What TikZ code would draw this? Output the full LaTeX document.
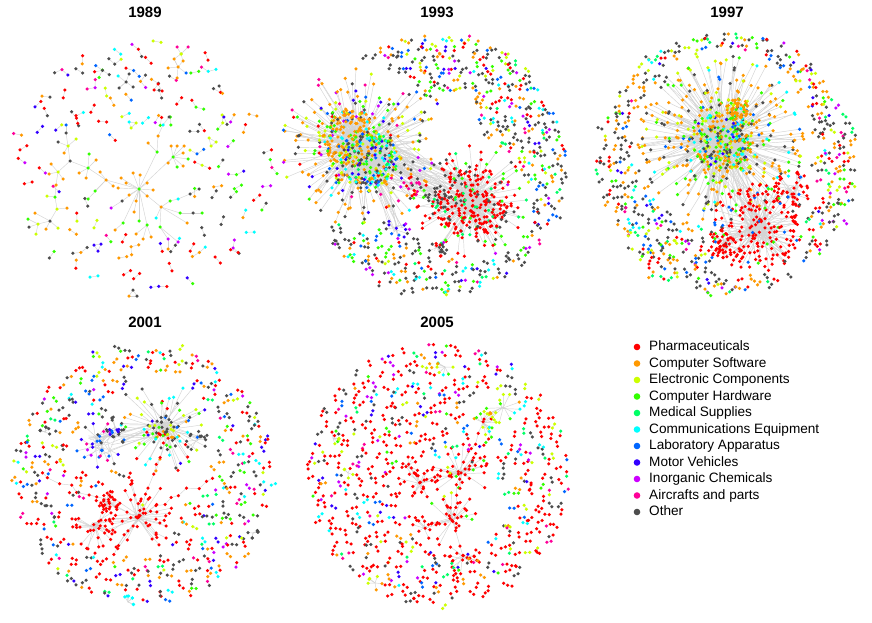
\documentclass[tikz,border=0pt]{standalone}
\usepackage{fontspec}
\setmainfont{Liberation Sans}
\definecolor{ph}{HTML}{FF0000}
\definecolor{cs}{HTML}{FF9900}
\definecolor{ec}{HTML}{CCFF00}
\definecolor{ch}{HTML}{33FF00}
\definecolor{ms}{HTML}{00FF66}
\definecolor{ce}{HTML}{00FFFF}
\definecolor{la}{HTML}{0066FF}
\definecolor{mv}{HTML}{3300FF}
\definecolor{ic}{HTML}{CC00FF}
\definecolor{ap}{HTML}{FF0099}
\definecolor{ot}{HTML}{4D4D4D}
\definecolor{edgecol}{HTML}{D4D4D4}
\tikzset{
  edge/.style={draw=edgecol,line width=0.45pt},
  yeartitle/.style={font=\bfseries\fontsize{15}{18}\selectfont,inner sep=0pt},
  legtext/.style={font=\fontsize{13.6}{16}\selectfont,anchor=west,inner sep=0pt,text height=9.5pt,text depth=2.5pt},
  legdot/.style={circle,inner sep=0pt,minimum size=6.6pt},
}
\def\dotr{1.75pt}
\newif\ifrejectpt
\newif\ifdotpass
\def\exzones{0/0/0}
% ---- own random generator (sum of three small Lehmer generators)
\newcount\sA \newcount\sB \newcount\sC \newcount\rv
\newcommand\rngseed[1]{\global\sA=\numexpr #1*7+11\relax
  \global\sB=\numexpr #1*13+17\relax \global\sC=\numexpr #1*19+23\relax}
\newcommand\rngnext{%
 \global\sA=\numexpr 171*\sA-30269*((171*\sA-15134)/30269)\relax
 \global\sB=\numexpr 172*\sB-30307*((172*\sB-15153)/30307)\relax
 \global\sC=\numexpr 170*\sC-30323*((170*\sC-15161)/30323)\relax
 \global\rv=\numexpr \sA+\sB+\sC\relax
 \global\rv=\numexpr \rv-29999*((\rv-14999)/29999)\relax}
\newcommand\getu[1]{\rngnext\pgfmathsetmacro#1{\the\numexpr\rv/2\relax/15000}}
\newcommand\deflist[2]{%
 \foreach \itm [count=\nn] in {#2}{%
  \expandafter\xdef\csname cl@#1@\nn\endcsname{\itm}%
  \expandafter\xdef\csname cl@#1@n\endcsname{\nn}}}
\newcommand\pickcol[2]{\rngnext
 \edef#1{\csname cl@#2@\the\numexpr(\rv*\csname cl@#2@n\endcsname-14999)/29999+1\relax\endcsname}}
\newcommand\myedge[4]{\ifdotpass\else\draw[edge] (#1,#2)--(#3,#4);\fi}
\newcommand\mydot[3]{\ifdotpass\fill[fill=#1] (#2,#3) circle (\dotr);\fi}
% dyads/triads on a jittered hex grid: cx cy rmin rmax spacing list sep triple-percent
\newcommand\gpairs[8]{%
 \pgfmathtruncatemacro\gn{#4/#5+1}%
 \pgfmathtruncatemacro\gmin{-\gn}%
 \pgfmathtruncatemacro\gr{#4/(0.866*#5)+1}%
 \pgfmathtruncatemacro\grmin{-\gr}%
 \foreach \gj in {\grmin,...,\gr}{%
 \foreach \gi in {\gmin,...,\gn}{%
  \getu\ua\getu\ub
  \pgfmathsetmacro\px{#1+(\gi+0.5*abs(mod(\gj,2)))*#5+0.32*#5*(2*\ua-1)}%
  \pgfmathsetmacro\py{#2+0.866*\gj*#5+0.32*#5*(2*\ub-1)}%
  \pgfmathsetmacro\dd{((\px-#1)/100)^2+((\py-#2)/100)^2}%
  \global\rejectptfalse
  \pgfmathparse{(\dd>(#4/100)^2) || (\dd<(#3/100)^2)}%
  \ifdim\pgfmathresult pt>0.5pt \global\rejectpttrue\fi
  \foreach \ex/\ey/\er in \exzones {%
    \pgfmathparse{((\px-\ex)/100)^2+((\py-\ey)/100)^2<(\er/100)^2}%
    \ifdim\pgfmathresult pt>0.5pt \global\rejectpttrue\fi}%
  \ifrejectpt\else
   \getu\ua
   \pgfmathsetmacro\myang{360*\ua}%
   \pgfmathsetmacro\qx{\px+#7*cos(\myang)}%
   \pgfmathsetmacro\qy{\py+#7*sin(\myang)}%
   \pickcol\ca{#6}%
   \pickcol\cb{#6}%
   \rngnext
   \ifnum\rv<15000 \let\cb\ca\fi
   \myedge{\px}{\py}{\qx}{\qy}%
   \mydot{\ca}{\px}{\py}%
   \mydot{\cb}{\qx}{\qy}%
   \rngnext
   \ifnum\rv<\numexpr 300*#8\relax
     \getu\ua
     \pgfmathsetmacro\myang{\myang+160*\ua-80}%
     \pgfmathsetmacro\tx{\qx+#7*cos(\myang)}%
     \pgfmathsetmacro\ty{\qy+#7*sin(\myang)}%
     \pickcol\cc{#6}%
     \myedge{\qx}{\qy}{\tx}{\ty}%
     \mydot{\cc}{\tx}{\ty}%
   \fi
  \fi
 }}}
% hub and spokes: cx cy rmin rmax N list hubspread edge-percent exponent
\newcommand\spokes[9]{%
 \foreach \i in {1,...,#5}{%
  \getu\ua\getu\ub
  \pgfmathsetmacro\myang{360*\ua}%
  \pgfmathsetmacro\myrad{#3+(#4-#3)*(\ub+0.001)^#9}%
  \pgfmathsetmacro\px{#1+\myrad*cos(\myang)}%
  \pgfmathsetmacro\py{#2+\myrad*sin(\myang)}%
  \getu\ua\getu\ub
  \pgfmathsetmacro\hx{#1+#7*(2*\ua-1)}%
  \pgfmathsetmacro\hy{#2+#7*(2*\ub-1)}%
  \pickcol\ca{#6}%
  \rngnext
  \ifnum\rv<\numexpr 300*#8\relax \myedge{\hx}{\hy}{\px}{\py}\fi
  \mydot{\ca}{\px}{\py}%
 }}
% edges only between two areas: x1 y1 s1 x2 y2 s2 N
\newcommand\links[7]{%
 \foreach \i in {1,...,#7}{%
  \getu\ua\getu\ub
  \pgfmathsetmacro\ax{#1+#3*(2*\ua-1)}\pgfmathsetmacro\ay{#2+#3*(2*\ub-1)}%
  \getu\ua\getu\ub
  \pgfmathsetmacro\bx{#4+#6*(2*\ua-1)}\pgfmathsetmacro\bby{#5+#6*(2*\ub-1)}%
  \myedge{\ax}{\ay}{\bx}{\bby}}}
% chain of nodes: x1 y1 x2 y2 n list jitter
\newcommand\chain[7]{%
 \foreach \k in {0,...,#5}{%
  \getu\ua\getu\ub
  \pgfmathsetmacro\chx{#1+(#3-#1)*\k/#5+#7*(2*\ua-1)}%
  \pgfmathsetmacro\chy{#2+(#4-#2)*\k/#5+#7*(2*\ub-1)}%
  \ifnum\k>0 \myedge{\chlx}{\chly}{\chx}{\chy}\fi
  \pickcol\ca{#6}%
  \mydot{\ca}{\chx}{\chy}%
  \global\let\chlx\chx \global\let\chly\chy
 }}
\deflist{l89}{ph,ph,ph,ph,ph,ph,cs,cs,cs,ot,ot,ot,ot,ec,ec,ch,ch,ce,la,ic,ap,mv}
\deflist{r93}{ot,ot,ot,ot,ot,ot,ot,ot,ot,ot,ot,ot,cs,cs,cs,cs,cs,ph,ph,ph,ch,ch,ch,ec,ec,ce,ce,la,la,ic,ap,ms,mv}
\deflist{lo93}{cs,cs,cs,cs,cs,cs,cs,ch,ec,ot,ce,la}
\deflist{lm93}{ch,ch,ch,ec,ec,ce,ce,ce,ot,ot,ot,cs,cs,la,mv,ms}
\deflist{lh93}{cs,cs,cs,cs,cs,cs,ch,ch,ec,ec,ot,ot,ot,ce,la,mv,ic,ap,ph}
\deflist{ap93}{ap,ap,ap,ot,ic,ph}
\deflist{mv93}{mv,mv,la,ic,ot}
\deflist{rc93}{ph,ph,ph,ph,ph,ph,ph,ph,ph,ph,ph,ph,ch,ot,ms}
\deflist{rh93}{ph,ph,ph,ph,ph,ch,ch,ot,ot,ms,ic}
\deflist{grey}{ot,ot,ot,ot,ph}
\deflist{ring97}{cs,cs,cs,cs,cs,cs,cs,ot,ot,ot,ot,ot,ot,ot,ph,ph,ph,ch,ch,ec,ec,ce,la,mv,ic,ap,ms}
\deflist{c97}{cs,cs,cs,cs,cs,ot,ot,ot,ch,ch,ch,ec,ec,ce,ce,la,mv}
\deflist{h97}{cs,cs,cs,cs,cs,cs,ot,ot,ot,ch,ch,ec,ec,ce,la}
\deflist{orng}{cs,cs,cs,cs,ch}
\deflist{r97}{ph,ph,ph,ph,ph,ph,ph,ph,ph,ph,ph,ph,ot,ch,la}
\deflist{ring01}{ph,ph,ph,ph,ph,ph,ph,ot,ot,ot,ot,ot,ot,cs,cs,cs,ch,ec,ce,la,mv,mv,ic,ap,ms}
\deflist{top01}{ot,ot,ot,ot,ch,ch,ec,ec,cs,ce,mv,ph,la}
\deflist{left01}{mv,mv,mv,ap,ap,ic,ic,ot,ot,la}
\deflist{red}{ph}
\deflist{gray}{ot}
\deflist{cyan}{ce}
\deflist{ring05}{ph,ph,ph,ph,ph,ph,ph,ph,ph,ph,ph,ph,ph,ph,ot,ot,ot,ot,ec,ch,cs,ce,la,mv,ic,ap,ms}
\deflist{yel05}{ec,ec,ec,ec,ch,ce,cs,ph}
\deflist{redt}{ph,ph,ph,ph,ph,ph,ph,ph,ec,ch}
\newcommand\drawnetworks{%
% ---------------- 1989
\rngseed{89}%
\def\exzones{140/190/48,85/175/28,50/215/24,175/155/20,175/215/25,62/145/14,178/63/16,126/82/12,158/88/8,132/125/8,212/142/8,98/247/8,133/293/8}%
\gpairs{145}{165}{0}{130}{21}{l89}{8}{25}%
\foreach \xa/\ya/\xb/\yb/\cl in {
 139/189/121/178/cs, 139/189/133/173/cs, 139/189/140/175/cs, 139/189/118/188/cs, 139/189/129/195/cs, 139/189/136/201/cs, 139/189/134/212/cs, 139/189/147/183/cs, 139/189/153/190/cs, 139/189/147/196/cs, 139/189/126/183/cs,
 139/189/106/180/cs,
 106/180/95/191/ch, 106/180/88/199/ch, 106/180/100/172/cs, 106/180/113/186/cs,
 106/180/88/168/ch,
 88/168/79/173/cs, 88/168/86/178/cs, 88/168/89/154/ch, 88/168/96/160/cs,
 88/168/70/161/ot,
 70/161/68/146/ec, 68/146/58/142/ot, 68/146/76/139/ec, 68/146/64/153/cs, 68/146/66/133/ot, 66/133/66/125/la,
 70/161/58/172/ec, 58/172/51/164/cs, 58/172/49/174/cs, 58/172/63/179/cs, 58/172/56/185/cs,
 56/185/55/197/ch, 55/197/47/196/ec, 55/197/57/209/ec, 57/209/67/208/cs, 57/209/50/221/ot,
 50/221/38/224/ec, 50/221/35/213/cs, 38/224/28/219/ch, 38/224/29/227/ot, 38/224/36/234/ec, 50/221/46/229/cs, 50/221/58/228/ec,
 139/189/157/152/ch, 157/152/158/136/cs, 158/136/163/125/ce, 163/125/169/117/ot, 157/152/148/143/cs,
 139/189/173/157/ch, 173/157/171/146/cs, 173/157/177/146/cs, 173/157/184/146/cs, 173/157/183/153/cs, 173/157/188/159/ch, 173/157/183/166/cs, 173/157/177/167/ch, 173/157/168/163/cs,
 139/189/161/207/cs, 161/207/170/201/ch, 170/201/178/199/ce, 178/199/190/194/ot, 190/194/199/189/ot,
 161/207/180/213/ch, 180/213/193/213/ot, 180/213/202/213/ch, 161/207/187/223/cs, 161/207/156/218/ce,
 161/207/160/227/ch, 160/227/168/239/ic, 168/239/168/249/cs, 160/227/178/242/ic,
 139/189/139/221/ch, 139/189/147/225/ch, 147/225/136/234/cs, 147/225/143/239/cs, 147/225/151/237/cs,
 139/189/123/223/ch, 123/223/115/230/cs,
 139/189/122/201/ot, 122/201/111/208/ic,
 178/67/174/59/cs, 174/59/181/54/ec, 181/54/177/47/ap, 181/54/188/47/ap, 178/67/183/61/cs, 183/61/181/54/ec, 178/67/168/68/cs, 178/67/177/78/cs, 178/67/186/73/la, 174/59/178/67/cs,
 126/82/118/76/ce, 126/82/129/74/ot, 126/82/119/88/ot, 126/82/133/87/ot, 119/88/126/82/ot,
 158/84/154/90/ph, 154/90/162/91/ph, 162/91/158/84/ph,
 129/122/136/123/ec, 136/123/131/128/ec, 131/128/129/122/ce,
 209/138/216/142/ec, 216/142/211/146/ec, 211/146/209/138/ec,
 94/245/101/244/mv, 101/244/98/251/mv, 98/251/94/245/mv,
 133/290/129/296/cs, 129/296/137/296/ot, 137/296/133/290/ot}{%
  \myedge{\xa}{\ya}{\xb}{\yb}%
  \mydot{\cl}{\xb}{\yb}}%
\mydot{ch}{139}{189}%
% ---------------- 1993
\rngseed{93}%
\links{368}{150}{25}{462}{200}{22}{45}%
\spokes{360}{148}{30}{80}{270}{lh93}{10}{100}{1.3}%
\spokes{352}{138}{0}{28}{170}{lo93}{6}{90}{0.5}%
\spokes{370}{160}{0}{28}{170}{lm93}{6}{90}{0.5}%
\spokes{410}{188}{0}{12}{16}{ap93}{3}{100}{0.5}%
\spokes{396}{228}{0}{14}{14}{mv93}{2}{70}{0.5}%
\links{396}{228}{8}{375}{170}{15}{10}%
\spokes{470}{202}{35}{58}{75}{rh93}{8}{100}{1}%
\spokes{470}{202}{0}{37}{230}{rc93}{6}{90}{0.55}%
\spokes{440}{198}{0}{12}{20}{grey}{4}{70}{0.5}%
\spokes{437}{248}{0}{10}{16}{grey}{3}{70}{0.5}%
\def\exzones{360/148/84,470/202/62,410/188/16,396/228/16,437/248/13,455/115/22}%
\gpairs{437}{165}{55}{131}{9.5}{r93}{4}{8}%
% ---------------- 1997
\rngseed{97}%
\links{722}{150}{20}{755}{225}{25}{25}%
\spokes{722}{138}{30}{85}{320}{h97}{10}{100}{1.3}%
\spokes{722}{140}{0}{30}{260}{c97}{6}{90}{0.5}%
\spokes{737}{110}{0}{12}{50}{orng}{3}{80}{0.5}%
\spokes{792}{190}{0}{20}{45}{r97}{5}{80}{0.6}%
\spokes{725}{245}{0}{20}{40}{r97}{5}{80}{0.6}%
\spokes{757}{228}{0}{45}{200}{r97}{8}{80}{0.55}%
\def\exzones{722/138/90,757/228/52,792/190/30,725/245/22}%
\gpairs{727}{164}{66}{131}{9.5}{ring97}{4}{8}%
% ---------------- 2001
\rngseed{101}%
\spokes{163}{427}{15}{50}{70}{top01}{6}{100}{1}%
\spokes{163}{427}{0}{15}{40}{top01}{4}{100}{0.5}%
\spokes{197}{440}{3}{12}{10}{gray}{1}{100}{0.7}%
\spokes{115}{428}{3}{12}{10}{gray}{1}{100}{0.7}%
\spokes{100}{445}{0}{25}{35}{left01}{10}{80}{0.6}%
\links{100}{445}{12}{155}{430}{10}{10}%
\spokes{45}{432}{5}{5}{7}{gray}{0}{100}{1}%
\spokes{253}{533}{5}{5}{7}{gray}{0}{100}{1}%
\spokes{128}{602}{6}{6}{7}{cyan}{0}{100}{1}%
\spokes{108}{502}{4}{12}{25}{red}{0}{100}{0.6}%
\spokes{138}{517}{5}{38}{45}{red}{3}{100}{1}%
\spokes{95}{525}{5}{25}{30}{red}{3}{100}{1}%
\chain{108}{502}{138}{517}{3}{red}{2}%
\chain{138}{517}{95}{525}{3}{red}{2}%
\chain{108}{502}{40}{473}{7}{red}{3}%
\chain{138}{517}{215}{477}{9}{red}{3}%
\chain{138}{517}{160}{455}{6}{redt}{3}%
\chain{138}{517}{112}{555}{4}{red}{2}%
\chain{138}{517}{168}{540}{3}{red}{2}%
\def\exzones{163/427/55,100/445/28,108/502/18,138/517/42,95/525/28,190/482/22,45/432/9,253/533/9,128/602/10,60/485/12}%
\gpairs{145}{474}{0}{131}{12}{ring01}{4.5}{8}%
% ---------------- 2005
\rngseed{105}%
\spokes{460}{473}{5}{30}{35}{redt}{2}{100}{1}%
\spokes{420}{483}{5}{22}{22}{red}{2}{100}{1}%
\spokes{452}{520}{5}{28}{30}{redt}{2}{100}{1}%
\spokes{462}{557}{5}{18}{14}{red}{2}{100}{1}%
\spokes{408}{465}{4}{12}{8}{red}{1}{100}{1}%
\spokes{425}{528}{4}{14}{10}{red}{1}{100}{1}%
\chain{460}{473}{420}{483}{4}{red}{2}%
\chain{460}{473}{452}{520}{4}{red}{2}%
\chain{452}{520}{462}{557}{3}{red}{2}%
\chain{420}{483}{408}{465}{2}{red}{1}%
\chain{452}{520}{425}{528}{2}{red}{1}%
\chain{460}{473}{483}{423}{5}{red}{2}%
\spokes{483}{423}{4}{18}{18}{yel05}{1}{100}{1}%
\spokes{503}{408}{4}{18}{14}{yel05}{1}{100}{1}%
\spokes{333}{438}{6}{6}{6}{yel05}{0}{100}{1}%
\spokes{375}{583}{7}{7}{6}{yel05}{0}{100}{1}%
\spokes{445}{367}{8}{8}{8}{yel05}{0}{100}{1}%
\spokes{348}{473}{5}{5}{5}{yel05}{0}{100}{1}%
\def\exzones{455/505/50,493/415/25,410/468/14,333/438/8,375/583/9,445/367/10,348/473/7}%
\gpairs{437}{475}{0}{131}{11.5}{ring05}{4.5}{8}%
}
\begin{document}
\begin{tikzpicture}[x=1pt,y=-1pt]
\useasboundingbox (0,0) rectangle (872,623);
\fill[white] (0,0) rectangle (872,623);
% titles
\node[yeartitle] (t1989) at (145,12) {1989};
\node[yeartitle] (t1993) at (437,12) {1993};
\node[yeartitle] (t1997) at (727,12) {1997};
\node[yeartitle] (t2001) at (145,322) {2001};
\node[yeartitle] (t2005) at (437,322) {2005};
% edges first, then the same random draw again for the dots
\dotpassfalse
\drawnetworks
\dotpasstrue
\drawnetworks
% ---------------- legend
\foreach \cl/\lt [count=\k from 0] in {ph/Pharmaceuticals,cs/Computer Software,ec/Electronic Components,ch/Computer Hardware,ms/Medical Supplies,ce/Communications Equipment,la/Laboratory Apparatus,mv/Motor Vehicles,ic/Inorganic Chemicals,ap/Aircrafts and parts,ot/Other}{%
  \node[legdot,fill=\cl] (legdot\k) at (637,347+16.5*\k) {};
  \node[legtext] (leg\k) at (649,347+16.5*\k) {\lt};
}
\end{tikzpicture}
\end{document}
